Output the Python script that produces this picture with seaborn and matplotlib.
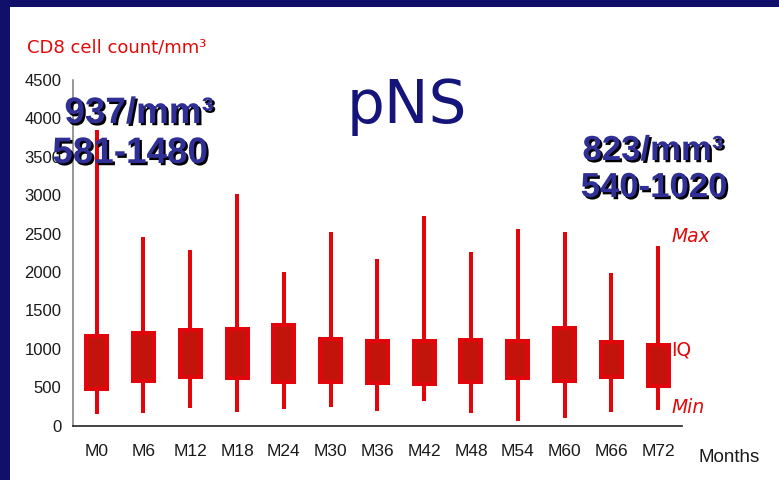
import numpy as np
import pandas as pd
import matplotlib
matplotlib.use("Agg")
import matplotlib.pyplot as plt
import matplotlib.patheffects as pe
from matplotlib.patches import Rectangle
import seaborn as sns

# CD8 counts per visit: minimum, interquartile range and maximum
months = ["M0", "M6", "M12", "M18", "M24", "M30", "M36", "M42", "M48", "M54", "M60", "M66", "M72"]
mins = [150, 160, 230, 180, 220, 240, 190, 320, 165, 60, 100, 175, 205]
q1 = [475, 585, 630, 620, 565, 565, 555, 545, 565, 615, 585, 630, 515]
q3 = [1160, 1200, 1240, 1260, 1305, 1130, 1105, 1095, 1120, 1105, 1265, 1085, 1045]
maxs = [3850, 2455, 2290, 3020, 2000, 2515, 2175, 2725, 2265, 2560, 2520, 1980, 2340]
yticks = [0, 500, 1000, 1500, 2000, 2500, 3000, 3500, 4000, 4500]

# five-number rows: the box spans q1..q3, whiskers run to min/max
rows = []
for m, lo, a, b, hi in zip(months, mins, q1, q3, maxs):
    for v in (lo, a, (a + b) / 2, b, hi):
        rows.append({"month": m, "count": v})
df = pd.DataFrame(rows)

sns.set_theme(style="white")
plt.rcParams["font.family"] = ["Liberation Sans", "DejaVu Sans"]

NAVY = "#10106a"
EDGE = "#e0060b"
FACE = "#c3140c"
TEXT_BLUE = "#2f2f96"

W, H = 779, 480
fig = plt.figure(figsize=(W / 100, H / 100), dpi=100)
fig.patch.set_facecolor(NAVY)
fig.add_artist(Rectangle((10 / W, 0), 1, 1 - 7 / H, transform=fig.transFigure,
                         facecolor="white", edgecolor="none", zorder=-10))

ax = fig.add_axes([73.3 / W, 1 - 425.5 / H, (681.5 - 73.3) / W, (425.5 - 80) / H])
ax.set_facecolor("none")

sns.boxplot(data=df, x="month", y="count", order=months, ax=ax,
            whis=(0, 100), width=0.45, color=FACE, saturation=1,
            linecolor=EDGE, linewidth=2.9, showcaps=False, showfliers=False,
            medianprops=dict(linewidth=0),
            whiskerprops=dict(solid_capstyle="butt", linewidth=2.9))

ax.set_ylim(0, 4500)
ax.set_xlim(-0.5, len(months) - 0.5)
ax.set_yticks(yticks)
ax.set_yticklabels([str(v) for v in yticks])
ax.set_xticks(np.arange(-0.5, len(months)), minor=True)
ax.set_xlabel("")
ax.set_ylabel("")

for s in ("top", "right"):
    ax.spines[s].set_visible(False)
ax.spines["left"].set_color("#7a7a7a")
ax.spines["left"].set_linewidth(1.1)
ax.spines["bottom"].set_color("#222222")
ax.spines["bottom"].set_linewidth(1.2)

ax.tick_params(axis="x", which="major", length=0, pad=13, labelsize=12.5, colors="#1a1a1a")
ax.tick_params(axis="x", which="minor", length=9, direction="inout", width=1.1, color="#333333")
ax.tick_params(axis="y", length=9, direction="inout", width=1.1, color="#7a7a7a",
               pad=4, labelsize=12, labelcolor="#1a1a1a")

def fx(px):
    return px / W

def fy(py):
    return 1 - py / H

fig.text(fx(27), fy(53), "CD8 cell count/mm³", color="#e00a0a", fontsize=13,
         family="DejaVu Sans", ha="left", va="baseline")
fig.text(fx(407), fy(123), "pNS", color="#14147a", fontsize=43,
         family="DejaVu Sans", ha="center", va="baseline")

shadow = [pe.withSimplePatchShadow(offset=(1.6, -1.6), shadow_rgbFace="black", alpha=1.0)]
big = dict(color=TEXT_BLUE, fontweight="bold", family="Liberation Sans",
           va="baseline", path_effects=shadow, zorder=20)
fig.text(fx(139), fy(123), "937/mm³", fontsize=26.5, ha="center", **big)
fig.text(fx(130), fy(163), "581-1480", fontsize=26.5, ha="center", **big)
fig.text(fx(653), fy(160), "823/mm³", fontsize=25, ha="center", **big)
fig.text(fx(654), fy(197), "540-1020", fontsize=25, ha="center", **big)

lab = dict(color="#e00a0a", family="DejaVu Sans", va="baseline", ha="left", fontsize=13.5)
fig.text(fx(672), fy(242), "Max", style="italic", **lab)
fig.text(fx(671), fy(356), "IQ", **lab)
fig.text(fx(672), fy(413), "Min", style="italic", **lab)

fig.text(fx(699), fy(462), "Months", color="#1a1a1a", fontsize=13.5, ha="left", va="baseline")

fig.savefig("out.png", dpi=100, facecolor=fig.get_facecolor())
